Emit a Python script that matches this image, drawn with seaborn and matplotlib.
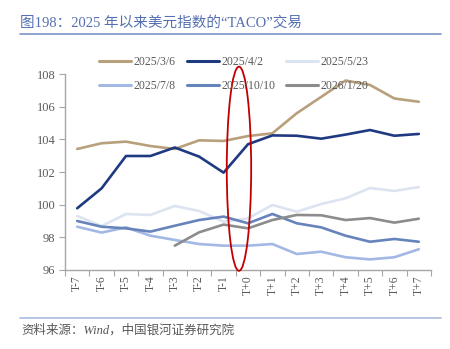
import matplotlib
matplotlib.use("Agg")
import matplotlib.pyplot as plt
import seaborn as sns
import pandas as pd
import numpy as np
from matplotlib.patches import Ellipse
from matplotlib.lines import Line2D

categories = ["T-7", "T-6", "T-5", "T-4", "T-3", "T-2", "T-1", "T+0",
              "T+1", "T+2", "T+3", "T+4", "T+5", "T+6", "T+7"]
s_0306 = [103.41, 103.76, 103.86, 103.59, 103.41, 103.94, 103.90, 104.20,
          104.37, 105.60, 106.60, 107.60, 107.33, 106.50, 106.30]
s_0402 = [99.78, 101.00, 102.98, 102.98, 103.50, 102.94, 101.96, 103.70,
          104.24, 104.22, 104.04, 104.29, 104.57, 104.22, 104.33]
s_0523 = [99.31, 98.69, 99.43, 99.37, 99.92, 99.61, 98.96, 99.16,
          99.98, 99.57, 100.04, 100.39, 101.02, 100.84, 101.08]
s_0708 = [98.65, 98.29, 98.61, 98.10, 97.84, 97.59, 97.49, 97.49,
          97.59, 96.98, 97.12, 96.78, 96.65, 96.78, 97.27]
s_1010 = [99.00, 98.65, 98.55, 98.35, 98.71, 99.06, 99.27, 98.86,
          99.43, 98.86, 98.61, 98.10, 97.73, 97.90, 97.73]
s_0120 = [None, None, None, None, 97.49, 98.31, 98.78, 98.55,
          99.06, 99.37, 99.35, 99.06, 99.18, 98.90, 99.14]

series_names = ["2025/3/6", "2025/4/2", "2025/5/23", "2025/7/8", "2025/10/10", "2026/1/20"]
series_values = [s_0306, s_0402, s_0523, s_0708, s_1010, s_0120]
colors = ["#B8A07C", "#1F3A80", "#DDE4F1", "#A3B8E4", "#6783BC", "#8C8C8C"]
yticks = [96, 98, 100, 102, 104, 106, 108]

rows = []
for name, vals in zip(series_names, series_values):
    for i, v in enumerate(vals):
        if v is not None:
            rows.append({"idx": i, "value": v, "series": name})
df = pd.DataFrame(rows)

sns.set_theme(style="white")
plt.rcParams["font.family"] = ["Liberation Serif", "Noto Sans CJK SC", "DejaVu Sans"]

fig = plt.figure(figsize=(4.5, 3.49), dpi=100)
ax = fig.add_axes([65/450, 1-270/349, (431-65)/450, (270-74)/349])

sns.lineplot(data=df, x="idx", y="value", hue="series", hue_order=series_names,
             palette=colors, linewidth=1.9, ax=ax, legend=False, sort=False)

ax.set_xlim(-0.5, len(categories) - 0.5)
ax.set_ylim(96, 108)
ax.set_yticks(yticks)
ax.set_yticklabels([str(t) for t in yticks])
ax.set_xticks(np.arange(-0.5, len(categories), 1.0))
ax.set_xticklabels([])
ax.set_xticks(np.arange(len(categories)), minor=True)
ax.set_xticklabels(categories, minor=True, rotation=90)
ax.tick_params(axis="x", which="major", length=4, width=0.8, color="#A6A6A6", direction="out")
ax.tick_params(axis="x", which="minor", length=0, labelsize=8.5, labelcolor="#595959", pad=4)
ax.tick_params(axis="y", length=4, width=0.8, color="#A6A6A6", direction="out",
               labelsize=9, labelcolor="#595959", pad=3)
ax.xaxis.set_tick_params(bottom=True, which="both")
ax.yaxis.set_tick_params(left=True)
ax.set_xlabel("")
ax.set_ylabel("")
for side in ["top", "right"]:
    ax.spines[side].set_visible(False)
for side in ["left", "bottom"]:
    ax.spines[side].set_color("#A6A6A6")
    ax.spines[side].set_linewidth(1.0)

# row-major legend order (matplotlib fills columns first)
order = [0, 3, 1, 4, 2, 5]
handles = [Line2D([0], [0], color=colors[i], lw=2.2) for i in order]
labels = [series_names[i] for i in order]
fig.legend(handles, labels, ncol=3, frameon=False,
           loc="center left", bbox_to_anchor=(99/450, 1-74/349),
           borderpad=0, borderaxespad=0,
           handlelength=2.75, handletextpad=0.2, columnspacing=0.9,
           labelspacing=1.0, fontsize=8.5, labelcolor="#595959")

ell = Ellipse((6.63, 102.2), width=1.0, height=12.5, fill=False,
              edgecolor="#C00000", linewidth=1.3, clip_on=False, zorder=10)
ax.add_patch(ell)

fig.text(20/450, 1-23/349, "图198：2025 年以来美元指数的“TACO”交易",
         fontsize=10.5, color="#5470B0", va="center", ha="left")
fig.add_artist(Line2D([20/450, 441/450], [1-34/349, 1-34/349],
                      color="#7D93C8", lw=1.2, transform=fig.transFigure))
fig.add_artist(Line2D([20/450, 441/450], [1-318/349, 1-318/349],
                      color="#A9BBDD", lw=1.2, transform=fig.transFigure))
fig.text(21/450, 1-330/349, "资料来源：Wind，中国银河证券研究院",
         fontsize=9, color="#595959", style="italic", va="center", ha="left")

fig.savefig("out.png", dpi=100)
